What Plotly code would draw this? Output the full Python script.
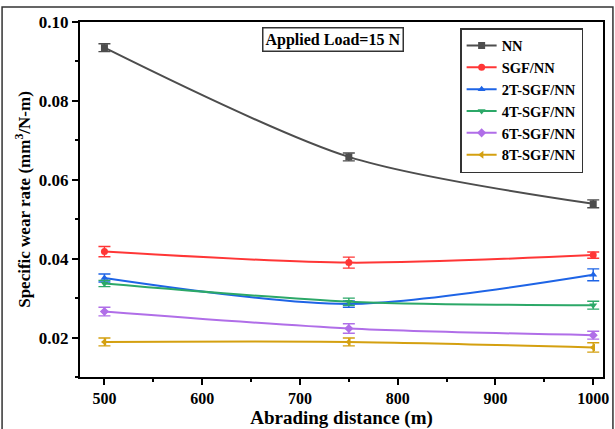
import plotly.graph_objects as go

distance = [500, 750, 1000]
series_names = ["NN", "SGF/NN", "2T-SGF/NN", "4T-SGF/NN", "6T-SGF/NN", "8T-SGF/NN"]
nn = [0.0935, 0.0658, 0.0539]
nn_err = [0.0010, 0.0010, 0.0010]
sgf = [0.0418, 0.0390, 0.0409]
sgf_err = [0.0013, 0.0014, 0.0008]
t2 = [0.0351, 0.0285, 0.0359]
t2_err = [0.0010, 0.0008, 0.0015]
t4 = [0.0337, 0.0291, 0.0282]
t4_err = [0.0008, 0.0009, 0.0010]
t6 = [0.0266, 0.0223, 0.0206]
t6_err = [0.0011, 0.0012, 0.0010]
t8 = [0.0189, 0.0189, 0.0175]
t8_err = [0.0010, 0.0010, 0.0012]
x_ticks = [500, 600, 700, 800, 900, 1000]
y_ticks = [0.02, 0.04, 0.06, 0.08, 0.10]
y_labels = ["0.02", "0.04", "0.06", "0.08", "0.10"]

values = [nn, sgf, t2, t4, t6, t8]
errors = [nn_err, sgf_err, t2_err, t4_err, t6_err, t8_err]
colors = ["#4d4d4d", "#ff3636", "#1e64e6", "#2ca868", "#b06ee8", "#d4a010"]
symbols = ["square", "circle", "triangle-up", "triangle-down", "diamond", "triangle-left"]

font_family = "Liberation Serif"

fig = go.Figure()
for name, v, e, c, s in zip(series_names, values, errors, colors, symbols):
    fig.add_trace(go.Scatter(
        x=distance, y=v, name="<b>" + name + "</b>", mode="lines+markers",
        line=dict(color=c, width=2, shape="spline", smoothing=0.8),
        marker=dict(symbol=s, size=7, color=c),
        error_y=dict(type="data", array=e, visible=True, color=c, thickness=1.4, width=6),
    ))

fig.update_layout(
    width=615, height=429,
    margin=dict(l=80, r=12, t=22, b=52),
    paper_bgcolor="white", plot_bgcolor="white",
    font=dict(family=font_family, size=15, color="black"),
    showlegend=True,
    legend=dict(
        x=0.962, y=0.983, xanchor="right", yanchor="top",
        bordercolor="#333333", borderwidth=1.5, bgcolor="white",
        font=dict(family=font_family, size=14.5, color="black"),
        tracegroupgap=0, itemwidth=30,
    ),
    xaxis=dict(
        range=[475, 1010], tickvals=x_ticks, ticktext=["<b>%d</b>" % t for t in x_ticks],
        ticks="outside", ticklen=6, tickwidth=1.5, tickcolor="black",
        minor=dict(ticks="outside", ticklen=3, tickwidth=1.5, tickcolor="black", dtick=50, tick0=500),
        showline=True, linecolor="black", linewidth=2, mirror=True,
        showgrid=False, zeroline=False, automargin=False,
        tickfont=dict(family=font_family, size=16, color="black"),
        title=dict(text="<b>Abrading distance (m)</b>", font=dict(family=font_family, size=19, color="black"), standoff=0),
    ),
    yaxis=dict(
        range=[0.01, 0.10], tickvals=y_ticks,
        ticktext=["<b>" + t + "</b>" for t in y_labels],
        ticks="outside", ticklen=6, tickwidth=1.5, tickcolor="black",
        minor=dict(ticks="outside", ticklen=3, tickwidth=1.5, tickcolor="black", dtick=0.01, tick0=0.01),
        showline=True, linecolor="black", linewidth=2, mirror=True,
        showgrid=False, zeroline=False, automargin=False,
        tickfont=dict(family=font_family, size=17, color="black"),
        title=dict(text="<b>Specific wear rate (mm<sup>3</sup>/N-m)</b>", font=dict(family=font_family, size=17, color="black"), standoff=4),
    ),
    annotations=[dict(
        text="<b>Applied Load=15 N</b>", x=0.483, y=0.985, xref="paper", yref="paper",
        xanchor="center", yanchor="top", showarrow=False,
        font=dict(family=font_family, size=16, color="black"),
        bordercolor="#333333", borderwidth=1.5, borderpad=2, bgcolor="white",
    )],
    shapes=[dict(
        type="rect", xref="paper", yref="paper",
        x0=-0.149, x1=1.019, y0=-0.16, y1=1.042,
        line=dict(color="#333333", width=1.5), layer="below",
    )],
)

fig.write_html("out.html", config={"displayModeBar": False},
               post_script="document.body.style.margin='0';document.body.style.overflow='hidden';")
